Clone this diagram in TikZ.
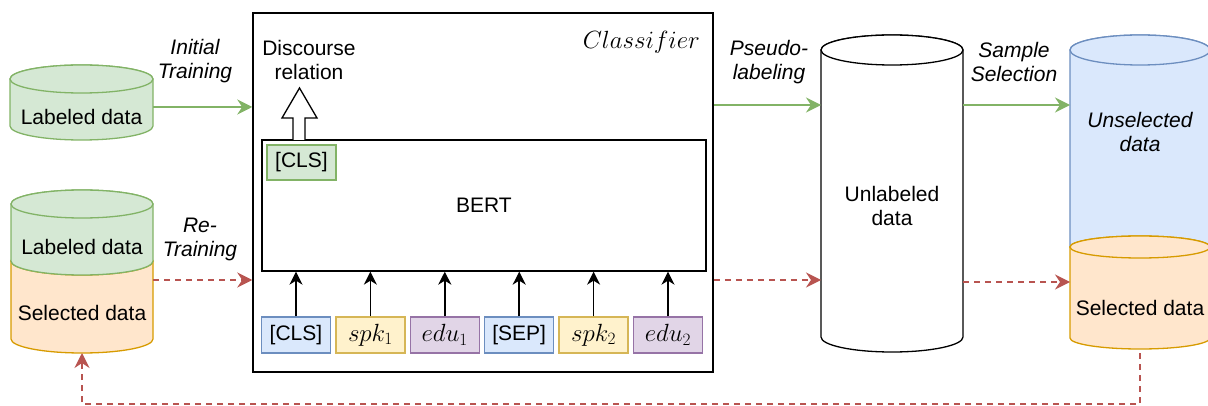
\documentclass[tikz,border=0pt]{standalone}
\usepackage{fontspec}
\setmainfont{Liberation Sans}
\usetikzlibrary{arrows.meta}
\definecolor{gfill}{HTML}{D5E8D4}\definecolor{gline}{HTML}{82B366}
\definecolor{ofill}{HTML}{FFE6CC}\definecolor{oline}{HTML}{D79B00}
\definecolor{bfill}{HTML}{DAE8FC}\definecolor{bline}{HTML}{6C8EBF}
\definecolor{yfill}{HTML}{FFF2CC}\definecolor{yline}{HTML}{D6B656}
\definecolor{pfill}{HTML}{E1D5E7}\definecolor{pline}{HTML}{9673A6}
\definecolor{redl}{HTML}{B85450}
% cylinder: cx, rx, ytop, ybottom(side end), ry, style
\newcommand\drawcyl[6]{%
  \path[#6] (#1-#2,#3) -- (#1-#2,#4) arc[start angle=180,end angle=360,x radius=#2pt,y radius=#5pt]
    -- (#1+#2,#3) arc[start angle=0,end angle=180,x radius=#2pt,y radius=#5pt] -- cycle;
  \path[#6] (#1,#3) ellipse[x radius=#2pt,y radius=#5pt];}
\begin{document}
\begin{tikzpicture}[x=1pt,y=-1pt,
  txt/.style={font=\fontsize{21}{24}\selectfont, inner sep=0pt, align=center},
  lbl/.style={font=\fontsize{21}{24}\selectfont\itshape, inner sep=0pt, align=center},
  mth/.style={font=\fontsize{24}{28}\selectfont, inner sep=0pt},
  area/.style={inner sep=0pt, outer sep=0pt},
  tok/.style={draw, line width=1.3pt, minimum width=69pt, minimum height=36pt, inner sep=0pt, font=\fontsize{21}{24}\selectfont},
  gcyl/.style={fill=gfill, draw=gline, line width=1.3pt},
  ocyl/.style={fill=ofill, draw=oline, line width=1.3pt},
  bcyl/.style={fill=bfill, draw=bline, line width=1.3pt},
  wcyl/.style={fill=white, draw=black, line width=1.3pt},
  garrow/.style={draw=gline, line width=1.5pt, -{Stealth[length=15pt,width=15pt,inset=5pt]}},
  rarrow/.style={draw=redl, line width=1.5pt, dash pattern=on 6pt off 5pt, -{Stealth[length=15pt,width=15pt,inset=5pt]}},
  barrow/.style={draw=black, line width=1.5pt, -{Stealth[length=13pt,width=13pt,inset=4pt]}}
]
\useasboundingbox (0,0) rectangle (1208,406);

% ---------- cylinders ----------
\drawcyl{81.5}{71.5}{79}{126}{14}{gcyl}
\node[area, minimum width=143pt, minimum height=75pt] (cA) at (81.5,102.5) {};
\node[txt] (tA) at (81.5,117) {Labeled data};

\drawcyl{82}{71}{261}{339}{14}{ocyl}
\drawcyl{82}{71}{204}{261}{14}{gcyl}
\node[area, minimum width=142pt, minimum height=163pt] (cB) at (82,271.5) {};
\node[txt] (tB1) at (82,247) {Labeled data};
\node[txt] (tB2) at (82,313) {Selected data};

\drawcyl{892}{71}{50}{337}{15}{wcyl}
\node[area, minimum width=142pt, minimum height=316pt] (cC) at (892,193) {};
\node[txt] (tC) at (892,206) {Unlabeled\\data};

\drawcyl{1140}{70}{50}{247}{15}{bcyl}
\drawcyl{1140}{70}{247}{338}{11}{ocyl}
\node[area, minimum width=140pt, minimum height=318pt] (cD) at (1140,194) {};
\node[lbl] (tD1) at (1140,132) {Unselected\\data};
\node[txt] (tD2) at (1140,308) {Selected data};

% ---------- classifier ----------
\node[draw, line width=1.5pt, minimum width=460pt, minimum height=359pt, inner sep=0pt] (clf) at (483,192.5) {};
\node[mth, anchor=east] (clfl) at (700,42) {$Classifier$};
\node[draw, line width=1.3pt, minimum width=444pt, minimum height=131pt, inner sep=0pt, font=\fontsize{21}{24}\selectfont] (bert) at (484,205.5) {BERT};
\node[tok, fill=gfill, draw=gline, minimum height=35pt] (cls2) at (301.5,162.5) {[CLS]};
\node[txt] (disc) at (309,60) {Discourse\\relation};
\draw[line width=1.3pt, fill=white] (293,140) -- (293,118) -- (282,118) -- (299.5,88) -- (317,118) -- (305,118) -- (305,140);

\node[tok, fill=bfill, draw=bline] (t1) at (296,335) {[CLS]};
\node[tok, fill=yfill, draw=yline, font=\fontsize{24}{28}\selectfont] (t2) at (370.4,335) {$spk_1$};
\node[tok, fill=pfill, draw=pline, font=\fontsize{24}{28}\selectfont] (t3) at (444.8,335) {$edu_1$};
\node[tok, fill=bfill, draw=bline] (t4) at (519.2,335) {[SEP]};
\node[tok, fill=yfill, draw=yline, font=\fontsize{24}{28}\selectfont] (t5) at (593.6,335) {$spk_2$};
\node[tok, fill=pfill, draw=pline, font=\fontsize{24}{28}\selectfont] (t6) at (668,335) {$edu_2$};
\foreach \t in {t1,t2,t3,t4,t5,t6}{
  \draw[barrow] (\t.north) -- (\t.north |- bert.south);
}

% ---------- labels ----------
\node[lbl] (l1) at (195,61) {Initial\\Training};
\node[lbl] (l2) at (200,239) {Re-\\Training};
\node[lbl] (l3) at (769,62) {Pseudo-\\labeling};
\node[lbl] (l4) at (1014,62) {Sample\\Selection};

% ---------- connectors ----------
\draw[garrow] (cA.east |- 0,107) -- (clf.west |- 0,107);
\draw[garrow] (clf.east |- 0,105) -- (cC.west |- 0,105);
\draw[garrow] (cC.east |- 0,105) -- (cD.west |- 0,105);
\draw[rarrow] (cB.east |- 0,280) -- (clf.west |- 0,280);
\draw[rarrow] (clf.east |- 0,280) -- (cC.west |- 0,280);
\draw[rarrow] (cC.east |- 0,282) -- (cD.west |- 0,282);
\draw[rarrow] (cD.south) -- (cD.south |- 0,404) -| (cB.south);
\end{tikzpicture}
\end{document}
